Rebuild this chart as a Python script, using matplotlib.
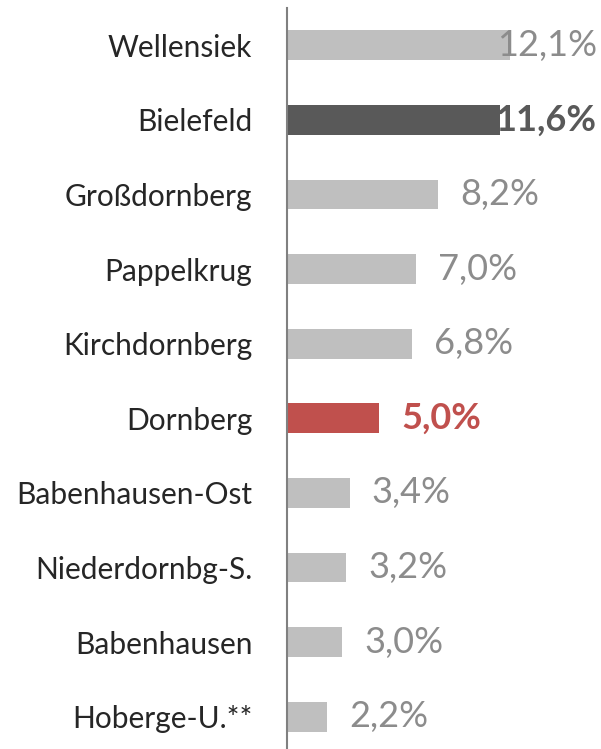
#!/usr/bin/env python3

import matplotlib

matplotlib.use("Agg")
import matplotlib.pyplot as plt

# Data (share in %)
districts = [
    "Wellensiek",
    "Bielefeld",
    "Großdornberg",
    "Pappelkrug",
    "Kirchdornberg",
    "Dornberg",
    "Babenhausen-Ost",
    "Niederdornbg-S.",
    "Babenhausen",
    "Hoberge-U.**",
]
shares = [12.1, 11.6, 8.2, 7.0, 6.8, 5.0, 3.4, 3.2, 3.0, 2.2]
highlight = {"Bielefeld": "#595959", "Dornberg": "#C0504D"}

BAR_GREY = "#BFBFBF"
LABEL_GREY = "#8C8C8C"
FONT = "Lato"


def main() -> None:
    fig = plt.figure(figsize=(6.01, 7.49), dpi=100)
    ax = fig.add_axes([287 / 601, -5 / 749, 310 / 601, 746 / 749])

    colors = [highlight.get(d, BAR_GREY) for d in districts]
    ypos = range(len(districts))
    ax.barh(ypos, shares, height=0.4, color=colors)

    ax.set_xlim(0, 310 / 18.4)
    ax.set_ylim(len(districts) - 0.5, -0.5)

    for side in ("top", "right", "bottom"):
        ax.spines[side].set_visible(False)
    ax.spines["left"].set_color("#808080")
    ax.spines["left"].set_linewidth(1.5)
    ax.set_xticks([])
    ax.set_yticks(list(ypos))
    ax.set_yticklabels(districts, fontsize=21.5, color="#262626", family=FONT)
    ax.tick_params(axis="y", length=0, pad=25)

    fig.canvas.draw()
    renderer = fig.canvas.get_renderer()
    ax_right = ax.get_window_extent().x1

    # Value labels; those that would run past the plot area are pushed back in
    for y, (name, v) in enumerate(zip(districts, shares)):
        bold = name in highlight
        col = highlight.get(name, LABEL_GREY)
        txt = ax.annotate(
            f"{v:.1f}%".replace(".", ","),
            xy=(v, y),
            xytext=(16, 0),
            textcoords="offset points",
            va="center",
            ha="left",
            fontsize=26,
            family=FONT,
            fontweight="bold" if bold else "normal",
            color=col,
        )
        if txt.get_window_extent(renderer).x1 > ax_right:
            txt.set_position((0, 0))
            txt.xy = (1.0, y)
            txt.xycoords = ax.get_yaxis_transform()
            txt.set_ha("right")

    fig.savefig("out.png", dpi=100)


if __name__ == "__main__":
    main()
